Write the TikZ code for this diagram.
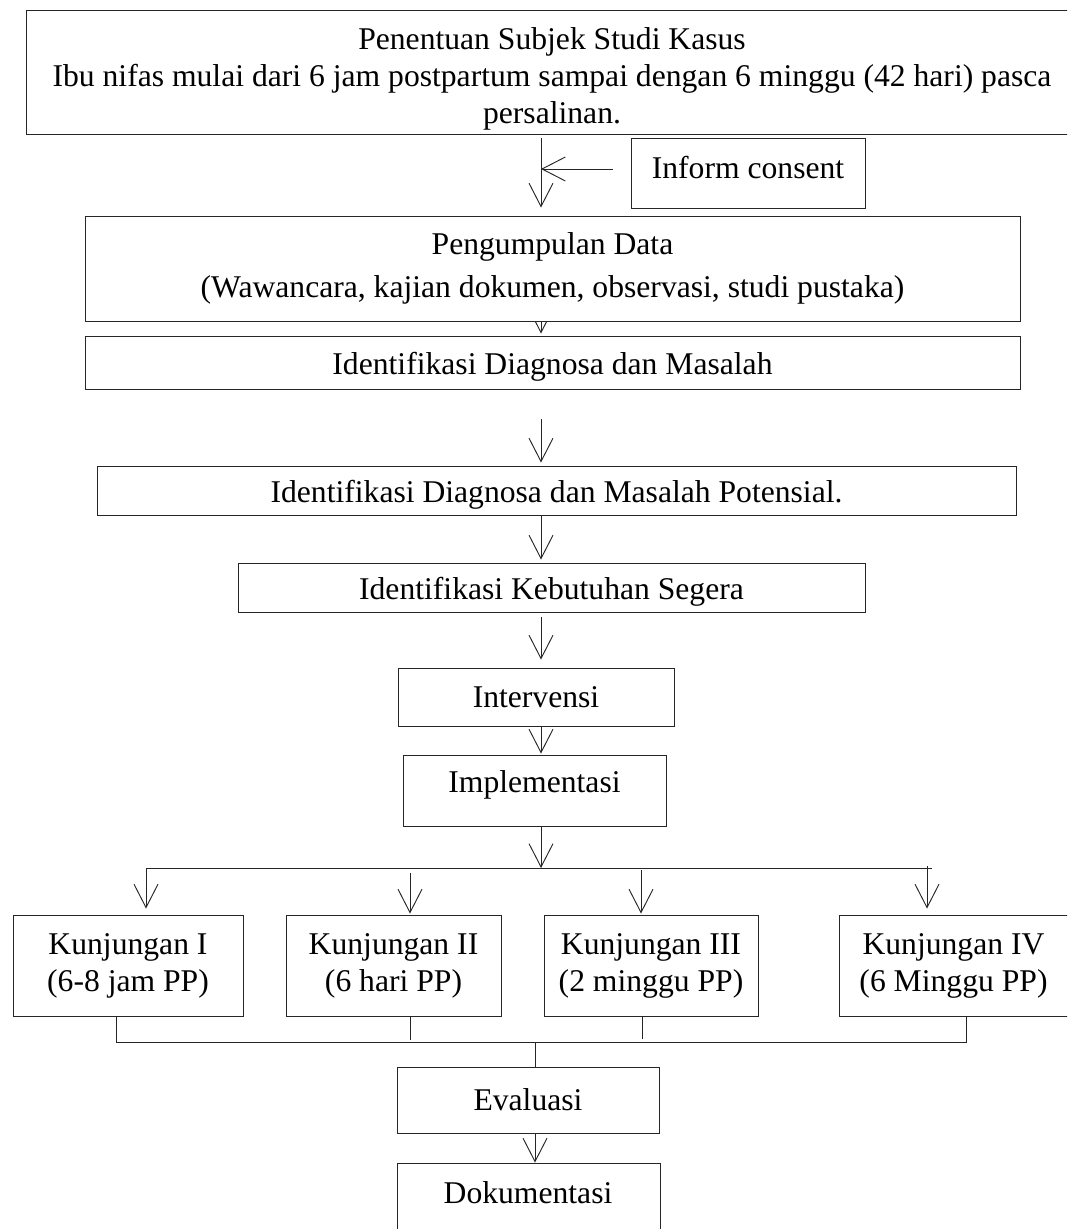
\documentclass[tikz,border=0pt]{standalone}
\usepackage{fontspec}
\setmainfont{Liberation Serif}
\usetikzlibrary{arrows.meta,backgrounds}

\tikzset{
    box/.style={draw=black!85, fill=white, thin, align=center, inner sep=0pt},
    arr/.style={draw=black!85, thin, -{Straight Barb[length=3.5mm,width=3.6mm]}},
    link/.style={draw=black!85, thin},
    lowtext/.style={text height=13.5pt, text depth=2.9pt},
    hightext/.style={text height=9.2pt, text depth=7.1pt}
}

\begin{document}
\begin{tikzpicture}[x=0.15mm, y=-0.15mm, font=\fontsize{13.5}{15.8}\selectfont]
    \useasboundingbox (0,0) rectangle (1067,1229);
    \clip (0,0) rectangle (1067,1229);

    % Subject and consent
    \node[box, minimum width=157.8mm, minimum height=18.6mm] (subjek) at (552,72) {};
    \node[align=center] (subjektext) at (552,79) {Penentuan Subjek Studi Kasus\\Ibu nifas mulai dari 6 jam postpartum sampai dengan 6 minggu (42 hari) pasca\\persalinan.};
    \node[box, text height=9.2pt, text depth=4.2pt, minimum width=35.1mm, minimum height=10.5mm] (consent) at (748,173) {Inform consent};

    % Main steps
    \node[box, minimum width=140.25mm, minimum height=15.75mm] (pengumpulan) at (552.5,268.5) {Pengumpulan Data\\[2.5pt](Wawancara, kajian dokumen, observasi, studi pustaka)};
    \node[box, lowtext, minimum width=140.25mm, minimum height=7.95mm] (diagnosa) at (552.5,362.5) {Identifikasi Diagnosa dan Masalah};
    \node[box, lowtext, minimum width=137.85mm, minimum height=7.35mm] (potensial) at (556.5,490.5) {Identifikasi Diagnosa dan Masalah Potensial.};
    \node[box, lowtext, minimum width=94.05mm, minimum height=7.35mm] (kebutuhan) at (551.5,587.5) {Identifikasi Kebutuhan Segera};
    \node[box, minimum width=41.4mm, minimum height=8.7mm] (intervensi) at (536,697) {Intervensi};
    \node[box, hightext, minimum width=39.45mm, minimum height=10.65mm] (implementasi) at (534.5,790.5) {Implementasi};

    % Visits
    \node[box, minimum width=34.5mm, minimum height=15.15mm] (k1) at (128,965.5) {Kunjungan I\\(6-8 jam PP)};
    \node[box, minimum width=32.25mm, minimum height=15.15mm] (k2) at (393.5,965.5) {Kunjungan II\\(6 hari PP)};
    \node[box, minimum width=32.1mm, minimum height=15.15mm] (k3) at (651,965.5) {Kunjungan III\\(2 minggu PP)};
    \node[box, minimum width=34.35mm, minimum height=15.15mm] (k4) at (953.5,965.5) {Kunjungan IV\\(6 Minggu PP)};

    % Evaluation and documentation
    \node[box, minimum width=39.3mm, minimum height=9.9mm] (evaluasi) at (528,1100) {Evaluasi};
    \node[box, minimum width=39.45mm, minimum height=12mm] (dokumentasi) at (528.5,1203) {};
    \node (dokutext) at (528,1193) {Dokumentasi};

    % Connectors behind the boxes
    \begin{scope}[on background layer]
        \coordinate (spine) at (541,0);
        \draw[arr, shorten <=0.6mm, shorten >=1.2mm] (subjek.south -| spine) -- (pengumpulan.north -| spine);
        \draw[arr, shorten <=2.7mm] ([yshift=0.6mm]consent.west) -- ([yshift=0.6mm]consent.west -| spine);
        \draw[arr, shorten >=0.3mm] (pengumpulan.south -| spine) -- (diagnosa.north -| spine);
        \draw[arr, shorten <=4.5mm, shorten >=0.45mm] (diagnosa.south -| spine) -- (potensial.north -| spine);
        \draw[arr, shorten <=0.15mm, shorten >=0.45mm] (potensial.south -| spine) -- (kebutuhan.north -| spine);
        \draw[arr, shorten <=0.75mm, shorten >=1.2mm] (kebutuhan.south -| spine) -- (intervensi.north -| spine);
        \draw[arr, shorten >=0.15mm] (intervensi.south -| spine) -- (implementasi.north -| spine);

        % Branch to the visits
        \coordinate (busL) at (146,868);
        \coordinate (busR) at (932,868);
        \coordinate (c1) at (146,868);
        \coordinate (c2) at (410,873);
        \coordinate (c3) at (641,870);
        \coordinate (c4) at (927,866);
        \draw[arr] (implementasi.south -| spine) -- (spine |- busL);
        \draw[link] (busL) -- (busR);
        \draw[arr, shorten >=0.9mm] (c1) -- (c1 |- k1.north);
        \draw[arr, shorten >=0.15mm] (c2) -- (c2 |- k2.north);
        \draw[arr, shorten >=0.15mm] (c3) -- (c3 |- k3.north);
        \draw[arr, shorten >=0.9mm] (c4) -- (c4 |- k4.north);

        % Join to evaluation
        \coordinate (d1) at (116,1042);
        \coordinate (d2) at (410,1040);
        \coordinate (d3) at (642,1039);
        \coordinate (d4) at (966,1042);
        \coordinate (join) at (535,1042);
        \draw[link] (d1 |- k1.south) -- (d1) -- (d4) -- (d4 |- k4.south);
        \draw[link] (d2 |- k2.south) -- (d2);
        \draw[link] (d3 |- k3.south) -- (d3);
        \draw[link] (join) -- (join |- evaluasi.north);
        \draw[arr] (evaluasi.south -| join) -- (dokumentasi.north -| join);
    \end{scope}
\end{tikzpicture}
\end{document}
